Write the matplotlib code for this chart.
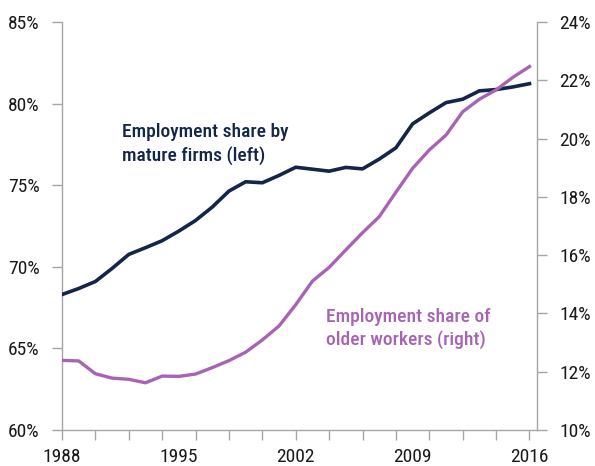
import matplotlib
matplotlib.use("Agg")
import matplotlib.pyplot as plt
from matplotlib import font_manager as fm
from matplotlib.ticker import FuncFormatter

years = list(range(1988, 2017))
mature_firms = [68.3, 68.67, 69.1, 69.9, 70.76, 71.17, 71.6, 72.19, 72.84, 73.66,
                74.64, 75.21, 75.15, 75.6, 76.1, 75.98, 75.86, 76.09, 76.0, 76.6,
                77.29, 78.76, 79.43, 80.06, 80.27, 80.78, 80.86, 81.02, 81.22]
older_workers = [12.39, 12.37, 11.93, 11.78, 11.74, 11.62, 11.85, 11.84, 11.92, 12.14,
                 12.38, 12.67, 13.09, 13.57, 14.3, 15.11, 15.58, 16.18, 16.77, 17.32,
                 18.16, 18.98, 19.61, 20.12, 20.92, 21.35, 21.67, 22.1, 22.47]
year_labels = [1988, 1995, 2002, 2009, 2016]
left_ticks = [60, 65, 70, 75, 80, 85]
right_ticks = [10, 12, 14, 16, 18, 20, 22, 24]
label_mature = "Employment share by\nmature firms (left)"
label_older = "Employment share of\nolder workers (right)"

available = {f.name for f in fm.fontManager.ttflist}
font = "DejaVu Sans"
for cand in ["Roboto Condensed", "Liberation Sans Narrow", "Open Sans Condensed",
             "DejaVu Sans Condensed", "Roboto", "Liberation Sans"]:
    if cand in available:
        font = cand
        break
plt.rcParams['font.family'] = [font, 'DejaVu Sans']

NAVY = "#13264a"
PURPLE = "#a764b5"
GRAY = "#a6a6a6"
TXT = "#1a1a1a"

fig = plt.figure(figsize=(5.95, 4.66), dpi=100)
ax = fig.add_axes([62/595, 36/466, (537-62)/595, (430-22)/466])
ax2 = ax.twinx()

ax.plot(years, mature_firms, color=NAVY, lw=2.6, solid_joinstyle='round', zorder=3)
ax2.plot(years, older_workers, color=PURPLE, lw=2.4, solid_joinstyle='round', zorder=3)

ax.set_xlim(1988, 2016.45)
ax.set_ylim(60, 85)
ax2.set_ylim(10, 24)

ax.set_yticks(left_ticks)
ax.yaxis.set_major_formatter(FuncFormatter(lambda v, p: f"{v:.0f}%"))
ax2.set_yticks(right_ticks)
ax2.yaxis.set_major_formatter(FuncFormatter(lambda v, p: f"{v:.0f}%"))

ax.xaxis.remove_overlapping_locs = False
ax.set_xticks(list(range(1988, 2017, 2)))
ax.set_xticklabels([])
ax.set_xticks(year_labels, minor=True)
ax.set_xticklabels([str(y) for y in year_labels], minor=True)
ax.tick_params(axis='x', which='major', length=7, width=1, color=GRAY, direction='out')
ax.tick_params(axis='x', which='minor', length=0, pad=13, labelsize=14, labelcolor=TXT)

ax.tick_params(axis='y', length=7, width=1, color=GRAY, pad=9, labelsize=14, labelcolor=TXT)
ax2.tick_params(axis='y', length=7, width=1, color=GRAY, pad=9, labelsize=14, labelcolor=TXT)

for a in (ax, ax2):
    a.spines['top'].set_visible(False)
    for s in ('left', 'right', 'bottom'):
        a.spines[s].set_color(GRAY)
        a.spines[s].set_linewidth(1)
ax.spines['right'].set_visible(False)
ax2.spines['left'].set_visible(False)
ax2.spines['bottom'].set_visible(False)

ax.text(1991.6, 78.8, label_mature, color=NAVY, fontsize=14, fontweight='medium',
        ha='left', va='top', linespacing=1.3)
ax2.text(2003.8, 14.2, label_older, color=PURPLE, fontsize=14, fontweight='medium',
         ha='left', va='top', linespacing=1.3)

fig.savefig("out.png", dpi=100)
